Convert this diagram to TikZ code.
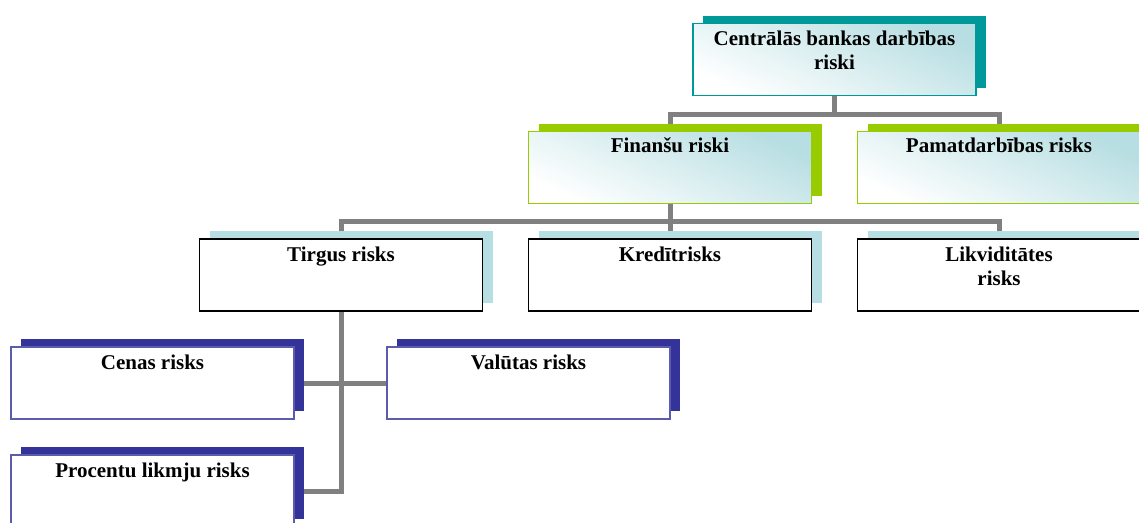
\documentclass[tikz,border=0pt]{standalone}
\usepackage{fontspec}
\setmainfont{Liberation Serif}
\usetikzlibrary{backgrounds}
\definecolor{tealD}{HTML}{009999}
\definecolor{limeG}{HTML}{99CC00}
\definecolor{paleT}{HTML}{B7DEE2}
\definecolor{navyB}{HTML}{333399}
\definecolor{linkG}{HTML}{808080}
\begin{document}
\begin{tikzpicture}[x=1pt,y=-1pt,
  box/.style={rectangle, minimum width=283pt, minimum height=72pt, inner sep=0pt, outer sep=0pt},
  glossy/.style={box, top color=paleT, middle color=paleT!22, bottom color=white, shading angle=-25, draw=#1, line width=1.4pt},
  plain/.style={box, fill=white, draw=black, line width=1.6pt},
  leaf/.style={box, fill=white, draw=navyB!80, line width=1.2pt},
  lbl/.style={anchor=base, align=center, inner sep=0pt, font=\fontsize{21}{24}\selectfont\bfseries},
  link/.style={draw=linkG, line width=5pt},
  shadowbox/.style={fill=#1},
]
\useasboundingbox (0,0) rectangle (1139,522);

% boxes
\node[glossy=tealD] (top) at (834.5,59.5) {};
\node[glossy=limeG] (fin) at (670,167.5) {};
\node[glossy=limeG] (pam) at (999,167.5) {};
\node[plain] (tir) at (341,275) {};
\node[plain] (kre) at (670,275) {};
\node[plain] (lik) at (999,275) {};
\node[leaf] (cen) at (152.5,383) {};
\node[leaf] (val) at (528.5,383) {};
\node[leaf] (pro) at (152.5,491) {};

% labels (base anchor sits on the last line)
\node[lbl] (topT) at ([yshift=-46pt]top.north) {Centrālās bankas darbības\\riski};
\node[lbl] (finT) at ([yshift=-21pt]fin.north) {Finanšu riski};
\node[lbl] (pamT) at ([yshift=-21pt]pam.north) {Pamatdarbības risks};
\node[lbl] (tirT) at ([yshift=-22pt]tir.north) {Tirgus risks};
\node[lbl] (kreT) at ([yshift=-22pt]kre.north) {Kredītrisks};
\node[lbl] (likT) at ([yshift=-46pt]lik.north) {Likviditātes\\risks};
\node[lbl] (cenT) at ([yshift=-22pt]cen.north) {Cenas risks};
\node[lbl] (valT) at ([yshift=-22pt]val.north) {Valūtas risks};
\node[lbl] (proT) at ([yshift=-22pt]pro.north) {Procentu likmju risks};

\begin{scope}[on background layer]
  % connectors
  \coordinate (j1) at (834.5,114);
  \coordinate (j2) at (670,221);
  \draw[link] (top.south) -- (j1);
  \draw[link] (fin.north) |- (j1) -| (pam.north);
  \draw[link] (fin.south) -- (j2);
  \draw[link] (tir.north) |- (j2) -| (lik.north);
  \draw[link] (j2) -- (kre.north);
  \draw[link] (tir.south) |- (pro.east);
  \draw[link] (cen.east) -- (val.west);
  % offset shadows
  \foreach \n/\c in {top/tealD, fin/limeG, pam/limeG, tir/paleT, kre/paleT, lik/paleT, cen/navyB, val/navyB, pro/navyB}
    \fill[shadowbox=\c] ([shift={(10pt,8pt)}]\n.south west) rectangle ([shift={(10pt,8pt)}]\n.north east);
\end{scope}
\end{tikzpicture}
\end{document}
